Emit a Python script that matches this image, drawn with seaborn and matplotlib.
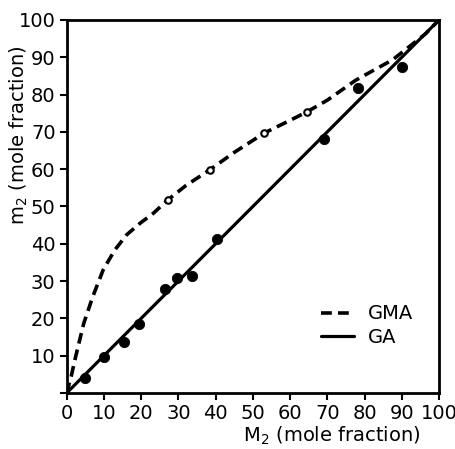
import matplotlib
matplotlib.use("Agg")
import matplotlib.pyplot as plt
import seaborn as sns

# GA (filled points) and fitted line
ga_x = [4.8, 9.9, 15.3, 19.4, 26.5, 29.5, 33.7, 40.4, 69.2, 78.3, 90.1]
ga_y = [4.0, 9.6, 13.7, 18.5, 27.9, 30.8, 31.4, 41.3, 68.1, 81.7, 87.4]
ga_line_x = [0, 100]
ga_line_y = [0, 100]

# GMA (open points) and fitted curve (traced)
gma_x = [27.2, 38.4, 53.1, 64.6]
gma_y = [51.8, 59.8, 69.7, 75.4]
gma_curve_x = [0, 1.2, 2.4, 4.6, 7.0, 9.8, 12.9, 16.1, 19.7, 23.3, 27.2, 32.0,
               38.4, 45.0, 53.1, 59.0, 64.6, 70.0, 77.7, 87.5, 96.4, 100]
gma_curve_y = [0, 4.4, 9.7, 18.7, 25.8, 33.0, 38.3, 42.4, 45.5, 48.2, 51.8, 55.6,
               59.8, 64.5, 69.7, 72.6, 75.4, 78.5, 83.9, 89.3, 96.3, 100]

ticks = [0, 10, 20, 30, 40, 50, 60, 70, 80, 90, 100]

sns.set_theme(style="ticks")
plt.rcParams['font.family'] = ['DejaVu Sans']
plt.rcParams['text.color'] = 'black'
plt.rcParams['axes.labelcolor'] = 'black'

fig = plt.figure(figsize=(4.56, 4.49), dpi=100)
ax = fig.add_axes([0.1462, 0.1247, 0.8165, 0.8308])

sns.lineplot(x=gma_curve_x, y=gma_curve_y, ax=ax, color="black", lw=2.6,
             label="GMA", sort=False)
ax.lines[-1].set_dashes([3.0, 1.7])
sns.lineplot(x=ga_line_x, y=ga_line_y, ax=ax, color="black", lw=2.3, label="GA")
sns.scatterplot(x=ga_x, y=ga_y, ax=ax, color="black", s=55, edgecolor="black", zorder=5)
sns.scatterplot(x=gma_x, y=gma_y, ax=ax, color="white", s=22, edgecolor="black",
                linewidth=1.5, zorder=5)

ax.set_xlim(0, 100)
ax.set_ylim(0, 100)
ax.set_xticks(ticks)
ax.set_yticks(ticks)
ax.set_yticklabels([""] + [str(t) for t in ticks[1:]])
ax.tick_params(direction="out", length=5, width=1.5, labelsize=14, colors="black", pad=3)
for s in ax.spines.values():
    s.set_visible(True)
    s.set_linewidth(2)
    s.set_color("black")

ax.set_xlabel("M$_2$ (mole fraction)", fontsize=14, va="center", color="black")
ax.set_ylabel("m$_2$ (mole fraction)", fontsize=14, va="center", color="black")
ax.xaxis.set_label_coords(0.711, -0.115)
ax.yaxis.set_label_coords(-0.128, 0.69)

leg = ax.legend(loc="center left", bbox_to_anchor=(0.637, 0.18), frameon=False,
                fontsize=14, handlelength=1.7, handletextpad=0.67, labelspacing=0.25,
                labelcolor="black")

fig.savefig("out.png", dpi=100)
